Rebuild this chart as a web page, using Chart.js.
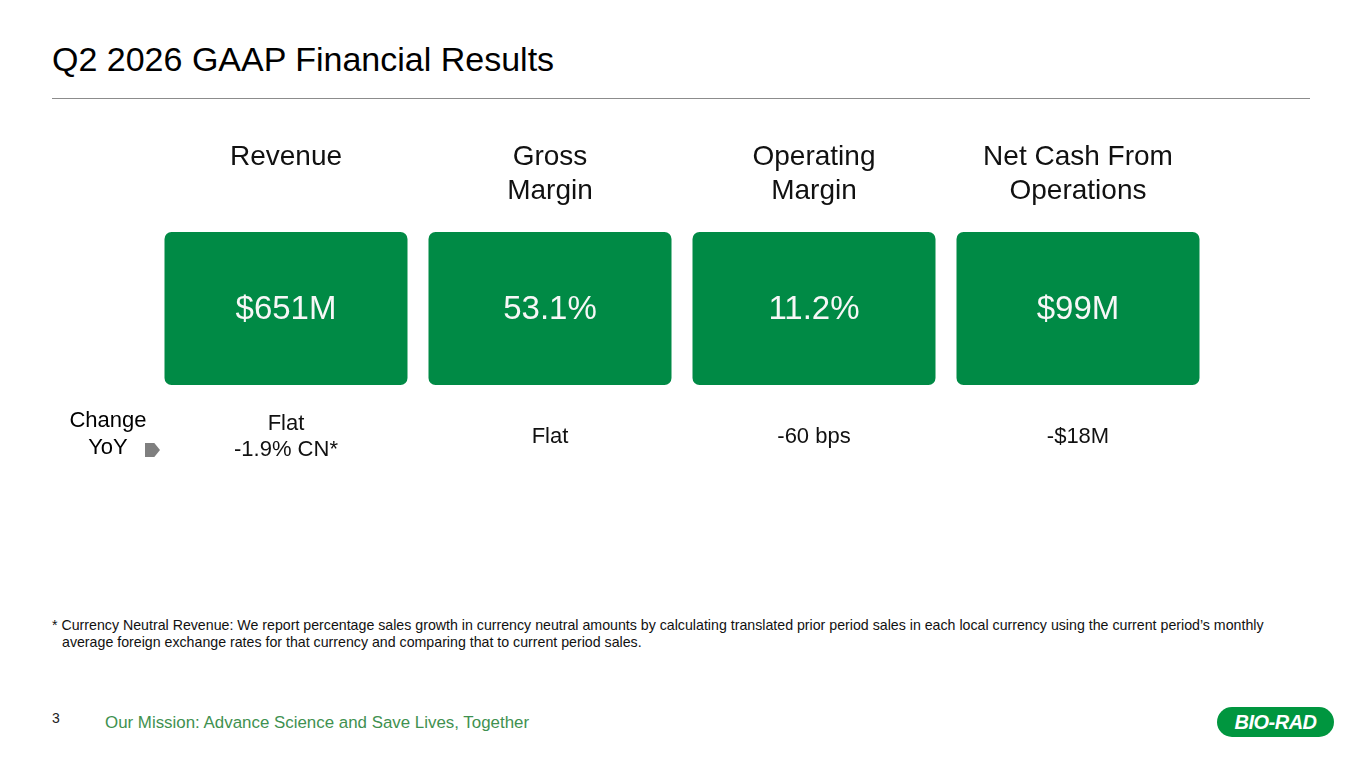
<!DOCTYPE html>
<html>
<head>
<meta charset="utf-8">
<script src="https://cdn.jsdelivr.net/npm/chart.js@4/dist/chart.umd.min.js"></script>
<style>
  html, body { margin:0; padding:0; background:#fff; }
  body { width:1365px; height:768px; position:relative; overflow:hidden; font-family:"Liberation Sans", Arial, sans-serif; color:#000; }
  #title { position:absolute; left:52px; top:39px; font-size:34px; line-height:40px; white-space:nowrap; }
  #rule { position:absolute; left:52px; top:98px; width:1258px; height:1px; background:#8c8c8c; }
  #wrap { position:absolute; left:154px; top:120px; width:1056px; height:360px; }
  #change { position:absolute; left:58px; top:406px; width:100px; text-align:center; font-size:22px; line-height:27px; }
  #arrow { position:absolute; left:145px; top:443px; width:15px; height:14px; background:#7f7f7f; clip-path:polygon(0 0, 62% 0, 100% 50%, 62% 100%, 0 100%); }
  #note { position:absolute; left:52px; top:617px; font-size:14.2px; line-height:17px; color:#111; white-space:nowrap; }
  #note .l2 { padding-left:10px; }
  #page { position:absolute; left:52px; top:710px; font-size:14px; line-height:16px; color:#222; }
  #mission { position:absolute; left:105px; top:713px; font-size:16.9px; line-height:20px; color:#3f9150; white-space:nowrap; }
  #logo { position:absolute; left:1217px; top:707px; width:117px; height:30px; border-radius:15px; background:#00963f; color:#fff; font-weight:bold; font-style:italic; font-size:20px; line-height:30px; text-align:center; letter-spacing:-0.5px; }
</style>
</head>
<body>
<div id="title">Q2 2026 GAAP Financial Results</div>
<div id="rule"></div>
<div id="wrap"><canvas id="c"></canvas></div>
<div id="change">Change<br>YoY</div>
<div id="arrow"></div>
<div id="note">* Currency Neutral Revenue: We report percentage sales growth in currency neutral amounts by calculating translated prior period sales in each local currency using the current period’s monthly<br><span class="l2">average foreign exchange rates for that currency and comparing that to current period sales.</span></div>
<div id="page">3</div>
<div id="mission">Our Mission: Advance Science and Save Lives, Together</div>
<div id="logo">BIO-RAD</div>
<script>
const categories = ['Revenue', 'Gross Margin', 'Operating Margin', 'Net Cash From Operations'];
const headerLines = [['Revenue'], ['Gross', 'Margin'], ['Operating', 'Margin'], ['Net Cash From', 'Operations']];
const tileValues = ['$651M', '53.1%', '11.2%', '$99M'];
const tileHeights = [1, 1, 1, 1];
const changeYoY = [['Flat', '-1.9% CN*'], ['Flat'], ['-60 bps'], ['-$18M']];

const textPlugin = {
  id: 'tileText',
  afterDatasetsDraw(chart) {
    const ctx = chart.ctx;
    const area = chart.chartArea;
    const meta = chart.getDatasetMeta(0);
    ctx.save();
    ctx.textAlign = 'center';
    ctx.textBaseline = 'middle';
    meta.data.forEach((bar, i) => {
      const x = bar.x;
      ctx.fillStyle = '#f7f7f7';
      ctx.font = '33px "Liberation Sans", Arial, sans-serif';
      ctx.fillText(tileValues[i], x, (bar.y + bar.base) / 2 + 1);
      ctx.fillStyle = '#111';
      ctx.font = '28px "Liberation Sans", Arial, sans-serif';
      headerLines[i].forEach((t, k) => ctx.fillText(t, x, area.top - 75 + k * 34));
      ctx.font = '22px "Liberation Sans", Arial, sans-serif';
      const lines = changeYoY[i];
      const lh = 26;
      const c = area.bottom + 52;
      lines.forEach((t, k) => ctx.fillText(t, x, c - (lines.length - 1) * lh / 2 + k * lh));
    });
    ctx.restore();
  }
};

new Chart(document.getElementById('c'), {
  type: 'bar',
  data: {
    labels: categories,
    datasets: [{
      data: tileHeights,
      backgroundColor: '#008a45',
      borderRadius: 7,
      borderSkipped: false,
      barPercentage: 243 / 264,
      categoryPercentage: 1
    }]
  },
  options: {
    responsive: true,
    maintainAspectRatio: false,
    animation: false,
    events: [],
    layout: { padding: { top: 112, bottom: 95, left: 0, right: 0 } },
    plugins: { legend: { display: false }, tooltip: { enabled: false } },
    scales: {
      x: { display: false, offset: true },
      y: { display: false, min: 0, max: 1 }
    }
  },
  plugins: [textPlugin]
});
</script>
</body>
</html>
